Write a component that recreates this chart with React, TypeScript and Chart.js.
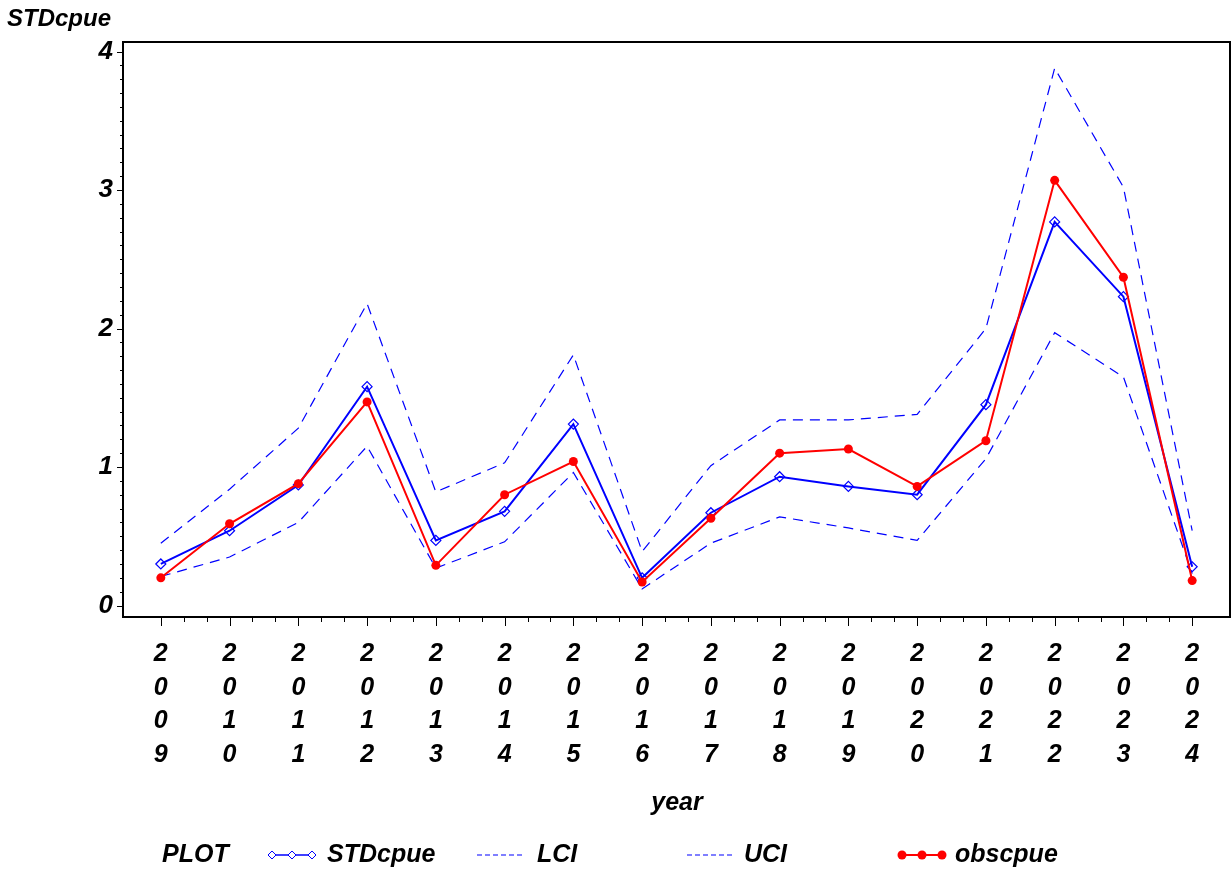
import React, { useEffect, useRef } from "react";
import { Chart, registerables } from "chart.js";

Chart.register(...registerables);

const years = [2009, 2010, 2011, 2012, 2013, 2014, 2015, 2016, 2017, 2018, 2019, 2020, 2021, 2022, 2023, 2024];
const stdcpue = [0.30, 0.54, 0.87, 1.58, 0.47, 0.68, 1.31, 0.20, 0.67, 0.93, 0.86, 0.80, 1.45, 2.77, 2.23, 0.28];
const obscpue = [0.20, 0.59, 0.88, 1.47, 0.29, 0.80, 1.04, 0.17, 0.63, 1.10, 1.13, 0.86, 1.19, 3.07, 2.37, 0.18];
const lci = [0.21, 0.35, 0.60, 1.15, 0.27, 0.46, 0.96, 0.12, 0.45, 0.64, 0.56, 0.47, 1.06, 1.97, 1.65, 0.23];
const uci = [0.45, 0.84, 1.28, 2.18, 0.82, 1.03, 1.81, 0.39, 1.01, 1.34, 1.34, 1.38, 2.00, 3.88, 3.02, 0.54];
const yTicks = [0, 1, 2, 3, 4];

const FONT = '"Liberation Sans", Arial, Helvetica, sans-serif';
const BLUE = "#0000ff";
const RED = "#ff0000";

const pts = (vals: number[]) => years.map((x, i) => ({ x, y: vals[i] }));

const decorPlugin = {
  id: "decor",
  afterDraw(chart: any) {
    const ctx = chart.ctx;
    const { left, right, top, bottom } = chart.chartArea;
    const xs = chart.scales.x;
    const ys = chart.scales.y;
    ctx.save();
    // frame
    ctx.strokeStyle = "#000";
    ctx.lineWidth = 2;
    ctx.strokeRect(left, top, right - left, bottom - top);
    // y tick marks
    ctx.lineWidth = 1;
    for (let k = 0; k <= 40; k++) {
      const v = k / 10;
      const py = Math.round(ys.getPixelForValue(v)) + 0.5;
      const len = k % 10 === 0 ? 6 : 3;
      ctx.beginPath();
      ctx.moveTo(left - len, py);
      ctx.lineTo(left, py);
      ctx.stroke();
    }
    // x tick marks
    for (let k = 0; k <= (years.length - 1) * 3; k++) {
      const v = years[0] + k / 3;
      const px = Math.round(xs.getPixelForValue(v)) + 0.5;
      const len = k % 3 === 0 ? 9 : 5;
      ctx.beginPath();
      ctx.moveTo(px, bottom);
      ctx.lineTo(px, bottom + len);
      ctx.stroke();
    }
    // titles
    ctx.fillStyle = "#000";
    ctx.font = `italic bold 24px ${FONT}`;
    ctx.textBaseline = "middle";
    ctx.textAlign = "left";
    ctx.fillText("STDcpue", 7, 19);
    ctx.font = `italic bold 25px ${FONT}`;
    ctx.textAlign = "center";
    ctx.fillText("year", 677, 803);
    // legend
    const ly = 855;
    ctx.textAlign = "left";
    ctx.fillText("PLOT", 162, ly);
    // STDcpue
    ctx.strokeStyle = BLUE;
    ctx.lineWidth = 1.5;
    ctx.beginPath();
    ctx.moveTo(268, ly);
    ctx.lineTo(316, ly);
    ctx.stroke();
    for (const cx of [272, 292, 312]) {
      ctx.beginPath();
      ctx.moveTo(cx - 4, ly);
      ctx.lineTo(cx, ly - 4);
      ctx.lineTo(cx + 4, ly);
      ctx.lineTo(cx, ly + 4);
      ctx.closePath();
      ctx.fillStyle = "#fff";
      ctx.fill();
      ctx.strokeStyle = BLUE;
      ctx.lineWidth = 1;
      ctx.stroke();
    }
    ctx.fillStyle = "#000";
    ctx.fillText("STDcpue", 327, ly);
    // LCI / UCI
    ctx.strokeStyle = BLUE;
    ctx.lineWidth = 1.2;
    ctx.setLineDash([5, 3]);
    ctx.beginPath();
    ctx.moveTo(477, ly);
    ctx.lineTo(525, ly);
    ctx.stroke();
    ctx.beginPath();
    ctx.moveTo(687, ly);
    ctx.lineTo(735, ly);
    ctx.stroke();
    ctx.setLineDash([]);
    ctx.fillStyle = "#000";
    ctx.fillText("LCI", 537, ly);
    ctx.fillText("UCI", 744, ly);
    // obscpue
    ctx.strokeStyle = RED;
    ctx.fillStyle = RED;
    ctx.lineWidth = 2;
    ctx.beginPath();
    ctx.moveTo(898, ly);
    ctx.lineTo(946, ly);
    ctx.stroke();
    for (const cx of [902, 922, 942]) {
      ctx.beginPath();
      ctx.arc(cx, ly, 4.5, 0, Math.PI * 2);
      ctx.fill();
    }
    ctx.fillStyle = "#000";
    ctx.fillText("obscpue", 955, ly);
    ctx.restore();
  },
};

export default function App() {
  const ref = useRef<HTMLCanvasElement | null>(null);
  useEffect(() => {
    if (!ref.current) return;
    const chart = new Chart(ref.current, {
      type: "line",
      data: {
        datasets: [
          {
            label: "obscpue",
            data: pts(obscpue),
            borderColor: RED,
            backgroundColor: RED,
            borderWidth: 2,
            pointStyle: "circle",
            pointRadius: 4.5,
            pointBorderWidth: 0,
            tension: 0,
          },
          {
            label: "STDcpue",
            data: pts(stdcpue),
            borderColor: BLUE,
            backgroundColor: "rgba(255,255,255,0)",
            borderWidth: 2,
            pointStyle: "rectRot",
            pointRadius: 5,
            pointBorderWidth: 1.2,
            pointBorderColor: BLUE,
            pointBackgroundColor: "rgba(255,255,255,0)",
            tension: 0,
          },
          {
            label: "LCI",
            data: pts(lci),
            borderColor: BLUE,
            borderWidth: 1.2,
            borderDash: [10, 7],
            pointRadius: 0,
            tension: 0,
          },
          {
            label: "UCI",
            data: pts(uci),
            borderColor: BLUE,
            borderWidth: 1.2,
            borderDash: [10, 7],
            pointRadius: 0,
            tension: 0,
          },
        ],
      },
      options: {
        animation: false,
        responsive: true,
        maintainAspectRatio: false,
        layout: { autoPadding: false, padding: { left: 0, top: 42, right: 1, bottom: 0 } },
        plugins: {
          legend: { display: false },
          tooltip: { enabled: false },
          title: { display: false },
        },
        scales: {
          x: {
            type: "linear",
            min: 2008.45,
            max: 2024.55,
            grid: { display: false, drawTicks: false },
            border: { display: false },
            afterBuildTicks: (scale: any) => {
              scale.ticks = years.map((v) => ({ value: v }));
            },
            afterFit: (scale: any) => {
              scale.height = 258;
            },
            ticks: {
              autoSkip: false,
              maxRotation: 0,
              minRotation: 0,
              padding: 20,
              color: "#000",
              font: { family: FONT, size: 25, style: "italic", weight: "bold", lineHeight: 1.35 },
              callback: (v: any) => String(v).split(""),
            },
          },
          y: {
            type: "linear",
            min: -0.083,
            max: 4.069,
            grid: { display: false, drawTicks: false },
            border: { display: false },
            afterBuildTicks: (scale: any) => {
              scale.ticks = yTicks.map((v) => ({ value: v }));
            },
            afterFit: (scale: any) => {
              scale.width = 123;
            },
            ticks: {
              padding: 10,
              color: "#000",
              font: { family: FONT, size: 26, style: "italic", weight: "bold" },
              callback: (v: any) => String(v),
            },
          },
        },
      },
      plugins: [decorPlugin],
    });
    return () => chart.destroy();
  }, []);
  return (
    <div style={{ position: "fixed", left: 0, top: 0, width: 1231, height: 875, background: "#fff" }}>
      <canvas ref={ref} />
    </div>
  );
}
